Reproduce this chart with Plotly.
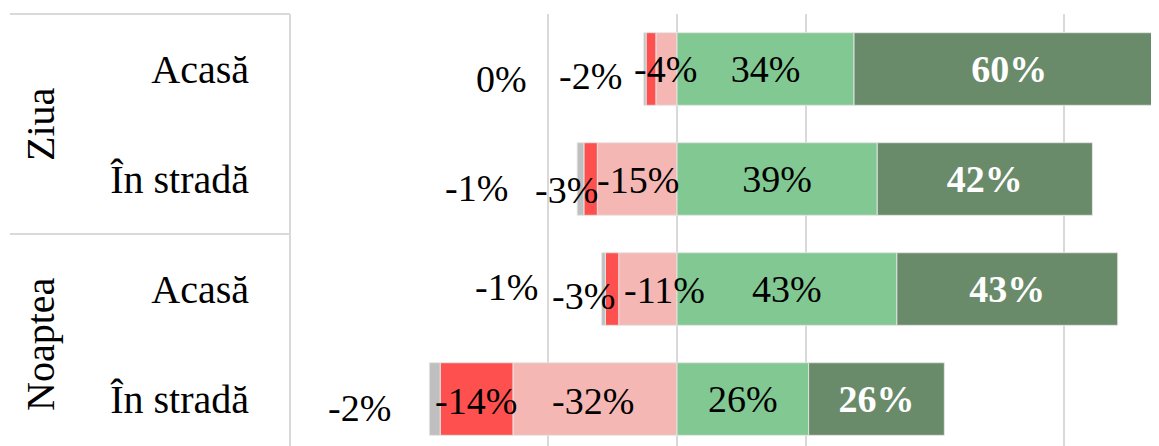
import plotly.graph_objects as go

# ---- data ----
groups = ["Ziua", "Noaptea"]
places = ["Acasă", "În stradă", "Acasă", "În stradă"]
grey_vals = [-0.45, -1.3, -0.7, -2.1]
red_vals = [-1.9, -2.6, -2.6, -14.1]
pink_vals = [-4.1, -15.45, -11.3, -31.8]
light_vals = [34.3, 38.8, 42.6, 25.5]
dark_vals = [60.2, 41.7, 42.8, 26.3]
grid_ticks = [-25, 0, 25, 75]

# ---- style ----
FONT = "Liberation Serif"
FS = 38
FS_CAT = 40
C_GREY = "#BFBFBF"
C_RED = "#FF5050"
C_PINK = "#F5B7B4"
C_LIGHT = "#82C893"
C_DARK = "#6A8B6A"
LINE = "#D9D9D9"
# manual label nudges (px) for the negative-side labels, as in the original
pink_dx, pink_dy = [-1, 1, 17, -2], [0, 1, 1, 1.5]
red_dx, red_dy = [-60, -24, -29, -0.5], [7, 11, 7, 1.5]
grey_dx, grey_dy = [-143, -104, -97, -75], [10, 9, -2, 8.5]

rows = list(range(len(places)))


def pct(v):
    return f"{round(v)}%"


fig = go.Figure()
border = dict(color="rgba(230,230,230,0.9)", width=1)
for vals, col in [(pink_vals, C_PINK), (red_vals, C_RED), (grey_vals, C_GREY)]:
    fig.add_trace(go.Bar(y=rows, x=vals, orientation="h", marker=dict(color=col, line=border),
                         width=0.66, hoverinfo="skip", showlegend=False))
fig.add_trace(go.Bar(y=rows, x=light_vals, orientation="h",
                     marker=dict(color=C_LIGHT, line=border), width=0.66,
                     text=[pct(v) for v in light_vals], textposition="inside",
                     insidetextanchor="middle", textangle=0,
                     insidetextfont=dict(family=FONT, size=FS, color="black"),
                     hoverinfo="skip", showlegend=False))
fig.add_trace(go.Bar(y=rows, x=dark_vals, orientation="h",
                     marker=dict(color=C_DARK, line=border), width=0.66,
                     text=[f"<b>{pct(v)}</b>" for v in dark_vals], textposition="inside",
                     insidetextanchor="middle", textangle=0,
                     insidetextfont=dict(family=FONT, size=FS, color="white"),
                     hoverinfo="skip", showlegend=False))

annotations = []
for i in rows:
    p0 = pink_vals[i]
    r0 = p0 + red_vals[i]
    g0 = r0 + grey_vals[i]
    segs = [((0 + p0) / 2, pink_vals[i], pink_dx[i], pink_dy[i]),
            ((p0 + r0) / 2, red_vals[i], red_dx[i], red_dy[i]),
            ((r0 + g0) / 2, grey_vals[i], grey_dx[i], grey_dy[i])]
    for cx, v, dx, dy in segs:
        annotations.append(dict(x=cx, y=i, xref="x", yref="y", text=pct(v), showarrow=False,
                                xshift=dx, yshift=-dy, xanchor="center", yanchor="middle",
                                font=dict(family=FONT, size=FS, color="black")))

# group labels (rotated)
for gi, g in enumerate(groups):
    annotations.append(dict(x=-0.2877, y=gi * 2 + 0.5, xref="paper", yref="y", text=g,
                            textangle=-90, showarrow=False, xanchor="center", yanchor="middle",
                            font=dict(family=FONT, size=FS_CAT, color="black")))

shapes = [
    dict(type="line", xref="paper", yref="paper", x0=-0.3222, x1=0, y0=1, y1=1,
         line=dict(color=LINE, width=2)),
    dict(type="line", xref="paper", yref="y", x0=-0.3222, x1=0, y0=1.5, y1=1.5,
         line=dict(color=LINE, width=2)),
    dict(type="line", xref="paper", yref="paper", x0=0, x1=0, y0=0, y1=1,
         line=dict(color=LINE, width=2)),
]

# the page body adds an 8px offset, so the figure is sized to fit the window
fig.update_layout(
    width=1151, height=438,
    margin=dict(l=282, r=0, t=6, b=0),
    barmode="relative",
    plot_bgcolor="white", paper_bgcolor="white",
    annotations=annotations, shapes=shapes,
    font=dict(family=FONT, size=FS, color="black"),
)
fig.update_xaxes(range=[-75, 93.4], tickvals=grid_ticks, showticklabels=False,
                 showgrid=True, gridcolor=LINE, gridwidth=2, zeroline=False, showline=False)
fig.update_yaxes(range=[3.427, -0.5], tickvals=rows, ticktext=places, showgrid=False,
                 zeroline=False, showline=False, ticks="", ticklabelstandoff=40,
                 tickfont=dict(family=FONT, size=FS_CAT, color="black"))

fig.write_html("out.html")
